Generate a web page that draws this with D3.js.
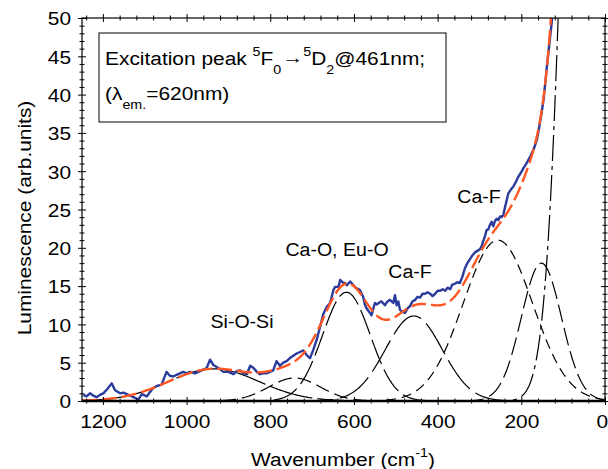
<!DOCTYPE html>
<html><head><meta charset="utf-8">
<script src="https://cdn.jsdelivr.net/npm/d3@7"></script>
<style>html,body{margin:0;padding:0;background:#fff;} svg{display:block;font-family:"Liberation Sans",Arial,sans-serif;}</style>
</head><body><svg id="chart" width="608" height="469"></svg>
<script>
// ---- data ----
const spectrumWavenumber = [1247,1239,1231,1223,1215,1207,1199,1189,1179,1171,1159,1151,1143,1135,1127,1115,1107,1095,1087,1080,1070,1060,1048,1040,1032,1024,1016,1008,1000,992,980,968,960,952,944,936,930,924,912,900,888,880,872,864,856,848,840,832,825,817,809,801,793,785,777,769,761,753,745,737,729,721,713,705,697,689,681,673,665,657,649,645,637,633,625,621,617,609,598,590,586,578,574,570,562,558,550,546,538,534,526,520,514,506,502,498,494,490,486,478,472,466,460,454,448,442,436,430,424,418,412,406,400,394,388,382,376,370,365,359,353,347,341,335,329,323,317,311,305,299,295,291,287,283,279,275,271,267,263,259,255,251,247,243,239,235,231,225,219,213,207,201,195,189,183,177,171,167,163,159,155,151,147,143,139,135,131,127,123];
const spectrumLuminescence = [0.8,0.6,1.0,0.7,0.5,0.8,1.0,1.6,2.3,1.4,1.0,1.1,0.9,0.7,0.5,0.2,0.9,0.6,1.2,1.7,2.0,2.1,3.8,3.3,3.2,3.4,3.6,3.8,3.6,3.8,3.6,3.9,4.1,4.3,5.4,4.7,4.5,4.3,3.8,3.8,3.5,3.9,4.0,3.6,3.5,4.6,4.3,3.8,3.5,3.6,3.6,3.8,4.0,5.2,4.6,5.0,5.2,5.6,5.9,6.2,6.4,6.6,6.0,5.6,6.7,8.0,9.7,11.4,12.3,12.8,14.5,14.9,14.9,15.8,15.4,15.4,15.1,15.6,14.9,14.6,14.5,13.6,12.6,12.1,11.5,11.2,12.8,12.6,12.9,13.0,12.5,13.0,13.2,12.8,13.8,12.5,13.0,11.9,11.7,11.5,12.1,12.4,13.0,13.2,13.6,13.5,14.0,14.0,14.2,14.0,13.7,14.0,14.4,14.4,14.6,14.4,14.8,14.6,15.2,15.3,15.5,15.4,16.2,17.3,18.0,18.5,19.0,19.4,19.6,19.8,20.2,20.9,21.5,22.3,22.4,23.0,23.4,22.8,23.5,23.8,23.6,24.1,24.0,24.3,25.3,26.2,27.1,27.6,28.0,28.6,29.3,29.8,30.4,30.9,31.5,32.1,32.8,33.4,34.1,35.2,36.5,37.8,39.3,41.4,43.6,45.6,47.6,49.6,52.0];
// Gaussian components of the fit: centre (cm-1), height, standard deviation (cm-1)
const peakCenters = [935, 742, 618, 457, 256, 152, 40];
const peakHeights = [4.2, 3.0, 14.2, 11.1, 21.0, 18.0, 154];
const peakSigmas  = [108, 62, 57, 68, 83, 48, 48];
const xTickValues = [1200, 1000, 800, 600, 400, 200, 0];
const yTickValues = [0, 5, 10, 15, 20, 25, 30, 35, 40, 45, 50];
const bandLabels = ["Si-O-Si", "Ca-O, Eu-O", "Ca-F", "Ca-F"];

// ---- styles ----
const componentDash = ["44,5", "14,6", "26,6", "36,7", "10,6", "18,6", "26,5,4,5"];
const SX = 1.1; // horizontal stretch of the lettering

const svg = d3.select("#chart");
const x = d3.scaleLinear().domain([1250, 0]).range([82, 605]);
const y = d3.scaleLinear().domain([0, 50]).range([401, 18]);

svg.append("defs").append("clipPath").attr("id", "plotclip")
  .append("rect").attr("x", 82).attr("y", 18).attr("width", 523).attr("height", 385);

const plot = svg.append("g").attr("clip-path", "url(#plotclip)");

const gauss = (v, i) => peakHeights[i] * Math.exp(-((v - peakCenters[i]) ** 2) / (2 * peakSigmas[i] ** 2));
const grid = d3.range(1250, -0.5, -2);

const line = d3.line().x(d => x(d[0])).y(d => y(d[1]));

// components
peakCenters.forEach((c, i) => {
  plot.append("path")
    .datum(grid.map(v => [v, Math.min(gauss(v, i), 80)]))
    .attr("d", line)
    .attr("fill", "none").attr("stroke", "#000").attr("stroke-width", 1.2)
    .attr("stroke-dasharray", componentDash[i]);
});

// measured spectrum
plot.append("path")
  .datum(spectrumWavenumber.map((w, i) => [w, spectrumLuminescence[i]]))
  .attr("d", line)
  .attr("fill", "none").attr("stroke", "#2b3b9c").attr("stroke-width", 2.4)
  .attr("stroke-linejoin", "round");

// cumulative fit
plot.append("path")
  .datum(grid.filter(v => v >= 110).map(v => [v, d3.sum(peakCenters, (c, i) => gauss(v, i))]))
  .attr("d", line)
  .attr("fill", "none").attr("stroke", "#ff5722").attr("stroke-width", 2.4)
  .attr("stroke-dasharray", "15,5");

// ---- axes ----
const xMinor = d3.range(0, 1250, 40);
const yMinor = d3.range(0, 51, 1);
const isMajX = d => xTickValues.includes(d);
const isMajY = d => yTickValues.includes(d);

function fixAxis(g, major, vertical) {
  g.select(".domain").remove();
  g.attr("font-size", null).attr("font-family", null);
  g.selectAll(".tick line")
    .attr(vertical ? "x1" : "y1", d => major(d) ? -4 : -2.5)
    .attr(vertical ? "x2" : "y2", d => major(d) ? 4 : 2.5)
    .attr("stroke", "#000").attr("stroke-width", 1);
}

const gB = svg.append("g").attr("transform", "translate(0,401)")
  .call(d3.axisBottom(x).tickValues(xMinor).tickFormat(d => isMajX(d) ? d : "").tickSizeOuter(0));
fixAxis(gB, isMajX, false);
gB.selectAll(".tick text").attr("y", 14).attr("dy", "0.71em")
  .attr("x", d => d === 0 ? -3 : 0)
  .attr("transform", `scale(${SX},1)`).style("font-size", "19px").attr("fill", "#000");

const gT = svg.append("g").attr("transform", "translate(0,18)")
  .call(d3.axisTop(x).tickValues(xMinor).tickFormat("").tickSizeOuter(0));
fixAxis(gT, isMajX, false);

const gL = svg.append("g").attr("transform", "translate(82,0)")
  .call(d3.axisLeft(y).tickValues(yMinor).tickFormat(d => isMajY(d) ? d : "").tickSizeOuter(0));
fixAxis(gL, isMajY, true);
gL.selectAll(".tick text").attr("x", -10).attr("dy", "0.36em")
  .attr("transform", `scale(${SX},1)`).style("font-size", "19px").attr("fill", "#000");

const gR = svg.append("g").attr("transform", "translate(605,0)")
  .call(d3.axisRight(y).tickValues(yMinor).tickFormat("").tickSizeOuter(0));
fixAxis(gR, isMajY, true);

// frame
svg.append("rect").attr("x", x(1250)).attr("y", y(50)).attr("width", x(0) - x(1250)).attr("height", y(0) - y(50))
  .attr("fill", "none").attr("stroke", "#000").attr("stroke-width", 1.2);
svg.append("line").attr("x1", x(1250)).attr("x2", x(0)).attr("y1", y(0)).attr("y2", y(0))
  .attr("stroke", "#000").attr("stroke-width", 2.4);

// ---- text ----
function label(px, py, anchor, sx, rot) {
  const g = svg.append("g").attr("transform", `translate(${px},${py})` + (rot ? ` rotate(${rot})` : ""));
  return g.append("text").attr("text-anchor", anchor).attr("transform", `scale(${sx},1)`)
    .style("font-size", "19px").attr("fill", "#000");
}

// axis titles
const xt = label(343, 466, "middle", SX);
xt.append("tspan").text("Wavenumber (cm");
xt.append("tspan").text("-1").style("font-size", "13px").attr("dy", -9);
xt.append("tspan").text(")").attr("dy", 9);

label(31, 218, "middle", SX, -90).text("Luminescence (arb.units)");

// band labels
label(242, 328, "middle", 1.03).text(bandLabels[0]);
label(337, 256, "middle", 1.03).text(bandLabels[1]);
label(410, 278, "middle", 1.03).text(bandLabels[2]);
label(479, 203, "middle", 1.03).text(bandLabels[3]);

// annotation box
svg.append("rect").attr("x", 99).attr("y", 33).attr("width", 347).attr("height", 89)
  .attr("fill", "#fff").attr("stroke", "#000").attr("stroke-width", 1);
const t1 = label(105, 65, "start", SX);
t1.append("tspan").text("Excitation peak ");
t1.append("tspan").text("5").style("font-size", "13px").attr("dy", -9);
t1.append("tspan").text("F").attr("dy", 9);
t1.append("tspan").text("0").style("font-size", "13px").attr("dy", 9);
t1.append("tspan").text("\u2192").style("font-size", "19px").attr("dy", -10).attr("dx", 1);
t1.append("tspan").text("5").style("font-size", "13px").attr("dy", -8);
t1.append("tspan").text("D").attr("dy", 9);
t1.append("tspan").text("2").style("font-size", "13px").attr("dy", 9);
t1.append("tspan").text("@461nm;").attr("dy", -9);

const t2 = label(105, 100, "start", SX);
t2.append("tspan").text("(\u03bb");
t2.append("tspan").text("em.").style("font-size", "13px").attr("dy", 9);
t2.append("tspan").text("=620nm)").attr("dy", -9);
</script></body></html>
